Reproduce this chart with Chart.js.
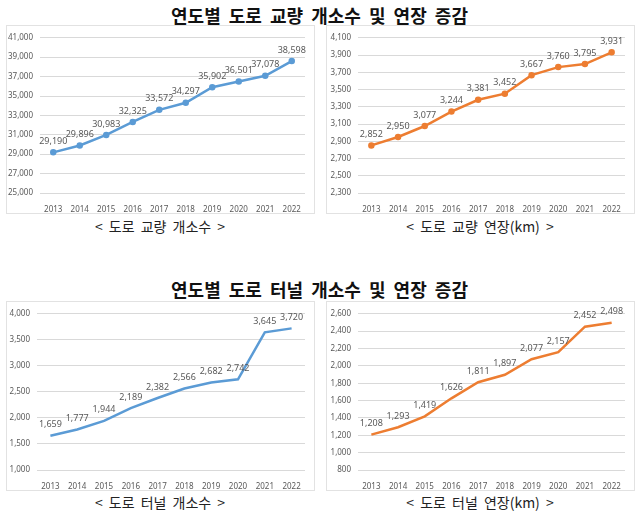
<!DOCTYPE html>
<html>
<head>
<meta charset="utf-8">
<script src="https://cdn.jsdelivr.net/npm/chart.js@4"></script>
<style>
  body { margin: 0; width: 639px; height: 513px; background: #fff; position: relative; overflow: hidden;
         font-family: "Noto Sans CJK KR", "Noto Sans", sans-serif; }
  .title { position: absolute; left: 0; width: 639px; text-align: center; font-size: 18px; font-weight: bold; color: #111; line-height: 18px; word-spacing: 4px; }
  .box { position: absolute; border: 1px solid #e2e2e2; box-sizing: border-box; }
  .box canvas { position: absolute; left: 0; top: 0; }
  .cap { position: absolute; width: 320px; text-align: center; font-size: 14px; color: #222; line-height: 14px; word-spacing: 3px; }
</style>
</head>
<body>
<div class="title" style="top:6px">연도별 도로 교량 개소수 및 연장 증감</div>
<div class="box" style="left:6px;top:25px;width:309px;height:189px"><canvas id="c1"></canvas></div>
<div class="box" style="left:326px;top:25px;width:309px;height:189px"><canvas id="c2"></canvas></div>
<div class="cap" style="left:0;top:219px">&lt; 도로 교량 개소수 &gt;</div>
<div class="cap" style="left:320px;top:219px">&lt; 도로 교량 연장(km) &gt;</div>

<div class="title" style="top:280px">연도별 도로 터널 개소수 및 연장 증감</div>
<div class="box" style="left:6px;top:301px;width:309px;height:190px"><canvas id="c3"></canvas></div>
<div class="box" style="left:326px;top:301px;width:309px;height:190px"><canvas id="c4"></canvas></div>
<div class="cap" style="left:0;top:495px">&lt; 도로 터널 개소수 &gt;</div>
<div class="cap" style="left:320px;top:495px">&lt; 도로 터널 연장(km) &gt;</div>

<script>
const years = ['2013', '2014', '2015', '2016', '2017', '2018', '2019', '2020', '2021', '2022'];
const bridgeCount = [29190, 29896, 30983, 32325, 33572, 34297, 35902, 36501, 37078, 38598];
const bridgeLength = [2852, 2950, 3077, 3244, 3381, 3452, 3667, 3760, 3795, 3931];
const tunnelCount = [1659, 1777, 1944, 2189, 2382, 2566, 2682, 2742, 3645, 3720];
const tunnelLength = [1208, 1293, 1419, 1626, 1811, 1897, 2077, 2157, 2452, 2498];

// 각 점 위에 값 표시
const valueLabels = {
    id: 'valueLabels',
    afterDatasetsDraw(chart) {
        const ctx = chart.ctx;
        const meta = chart.getDatasetMeta(0);
        const data = chart.data.datasets[0].data;
        ctx.save();
        ctx.font = '9px "Noto Sans", sans-serif';
        ctx.fillStyle = '#595959';
        ctx.textAlign = 'center';
        ctx.textBaseline = 'middle';
        meta.data.forEach((pt, i) => {
            ctx.fillText(data[i].toLocaleString('en-US'), pt.x, pt.y - 11);
        });
        ctx.restore();
    }
};

function makeChart(id, w, h, values, color, min, max, step, yWidth, markers) {
    const cv = document.getElementById(id);
    cv.width = w; cv.height = h;
    new Chart(cv.getContext('2d'), {
        type: 'line',
        data: {
            labels: years,
            datasets: [{
                data: values,
                borderColor: color,
                backgroundColor: color,
                borderWidth: 2.5,
                pointRadius: markers ? 2 : 0,
                tension: 0
            }]
        },
        options: {
            responsive: false,
            animation: false,
            layout: { padding: { left: 0, right: 9, top: 7, bottom: 0 } },
            plugins: { legend: { display: false }, tooltip: { enabled: false } },
            scales: {
                x: {
                    offset: true,
                    grid: { display: false },
                    border: { display: false },
                    ticks: { font: { size: 8, family: '"Noto Sans", sans-serif' }, color: '#595959', padding: 4, maxRotation: 0 },
                    afterFit(s) { s.height = 20; }
                },
                y: {
                    min: min, max: max,
                    grid: { color: '#d9d9d9', drawTicks: false },
                    border: { display: false },
                    ticks: {
                        stepSize: step,
                        font: { size: 8, family: '"Noto Sans", sans-serif' },
                        color: '#595959',
                        padding: 7,
                        callback: v => v.toLocaleString('en-US')
                    },
                    afterFit(s) { s.width = yWidth; }
                }
            }
        },
        plugins: [valueLabels]
    });
}

makeChart('c1', 307, 187, bridgeCount, '#5B9BD5', 25000, 41000, 2000, 33, true);
makeChart('c2', 307, 187, bridgeLength, '#ED7D31', 2300, 4100, 200, 31, true);
makeChart('c3', 307, 188, tunnelCount, '#5B9BD5', 1000, 4000, 500, 30, false);
makeChart('c4', 307, 188, tunnelLength, '#ED7D31', 800, 2600, 200, 31, false);
</script>
</body>
</html>
